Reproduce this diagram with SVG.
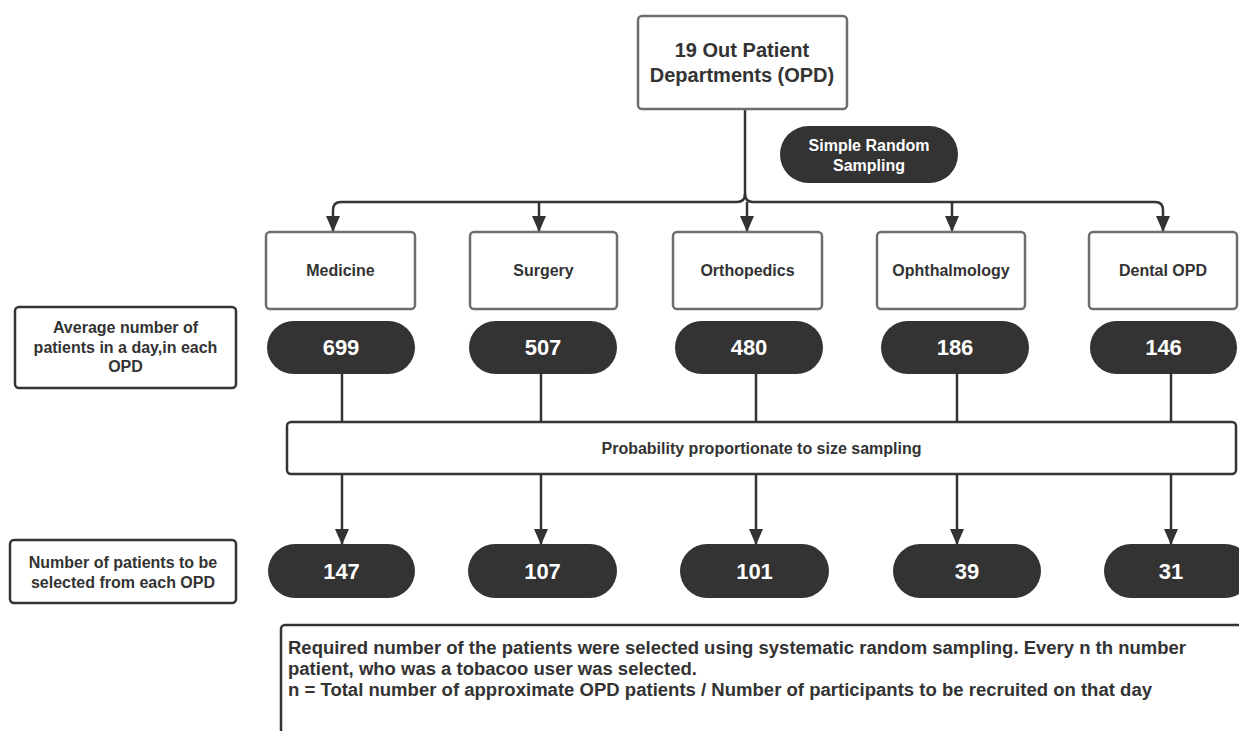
<svg xmlns="http://www.w3.org/2000/svg" width="1239" height="731" viewBox="0 0 1239 731">
<defs>
<style>
text{font-family:"Liberation Sans",Arial,sans-serif;font-weight:bold;}
.box{fill:#fff;stroke:#6e6e6e;stroke-width:2.5;}
.dbox{fill:#fff;stroke:#333;stroke-width:2.5;}
.pill{fill:#333;stroke:none;}
.lbl{fill:#333;font-size:16px;text-anchor:middle;}
.num{fill:#fff;font-size:22px;text-anchor:middle;}
.wl{fill:#fff;font-size:16px;text-anchor:middle;}
.ttl{fill:#333;font-size:20px;text-anchor:middle;}
.note{fill:#333;font-size:18px;}
.con{fill:none;stroke:#333;stroke-width:2.5;}
.arr{fill:none;stroke:#333;stroke-width:2.5;marker-end:url(#ah);}
</style>
<marker id="ah" markerWidth="16" markerHeight="14" refX="15" refY="7" orient="auto" markerUnits="userSpaceOnUse" viewBox="0 0 16 14">
<path d="M0,0 L16,7 L0,14 Z" fill="#333"/>
</marker>
</defs>

<g id="connectors">
<path class="con" d="M745,109 V196"/>
<path class="arr" d="M745,194 Q745,202 737,202 H341 Q333,202 333,210 V231"/>
<path class="arr" d="M745,194 Q745,202 753,202 H1155 Q1163,202 1163,210 V231"/>
<path class="arr" d="M539,202 V231"/>
<path class="arr" d="M747,202 V231"/>
<path class="arr" d="M952,202 V231"/>
<path class="con" d="M342,374 V422"/>
<path class="con" d="M541,374 V422"/>
<path class="con" d="M756,374 V422"/>
<path class="con" d="M957,374 V422"/>
<path class="con" d="M1171,374 V422"/>
<path class="arr" d="M342,474 V544"/>
<path class="arr" d="M541,474 V544"/>
<path class="arr" d="M756,474 V544"/>
<path class="arr" d="M957,474 V544"/>
<path class="arr" d="M1171,474 V544"/>
</g>

<g id="opd-root">
<rect class="box" x="638" y="16" width="209" height="93" rx="4"/>
<text class="ttl" x="742" y="57">19 Out Patient</text>
<text class="ttl" x="742" y="82">Departments (OPD)</text>
</g>

<g id="simple-random">
<rect class="pill" x="780" y="126" width="178" height="57" rx="28.5"/>
<text class="wl" x="869" y="151">Simple Random</text>
<text class="wl" x="869" y="171">Sampling</text>
</g>

<g id="medicine"><rect class="box" x="266" y="232" width="149" height="77" rx="4"/><text class="lbl" x="340.5" y="276">Medicine</text></g>
<g id="surgery"><rect class="box" x="470" y="232" width="147" height="77" rx="4"/><text class="lbl" x="543.5" y="276">Surgery</text></g>
<g id="orthopedics"><rect class="box" x="673" y="232" width="149" height="77" rx="4"/><text class="lbl" x="747.5" y="276">Orthopedics</text></g>
<g id="ophthalmology"><rect class="box" x="877" y="232" width="148" height="77" rx="4"/><text class="lbl" x="951" y="276">Ophthalmology</text></g>
<g id="dental"><rect class="box" x="1089" y="232" width="148" height="77" rx="4"/><text class="lbl" x="1163" y="276">Dental OPD</text></g>

<g id="avg-label">
<rect class="dbox" x="15" y="307" width="221" height="81" rx="4"/>
<text class="lbl" x="125.5" y="333">Average number of</text>
<text class="lbl" x="125.5" y="353">patients in a day,in each</text>
<text class="lbl" x="125.5" y="372">OPD</text>
</g>

<g id="avg-699"><rect class="pill" x="267" y="321" width="148" height="53" rx="26.5"/><text class="num" x="341" y="355">699</text></g>
<g id="avg-507"><rect class="pill" x="469" y="321" width="148" height="53" rx="26.5"/><text class="num" x="543" y="355">507</text></g>
<g id="avg-480"><rect class="pill" x="675" y="321" width="148" height="53" rx="26.5"/><text class="num" x="749" y="355">480</text></g>
<g id="avg-186"><rect class="pill" x="881" y="321" width="148" height="53" rx="26.5"/><text class="num" x="955" y="355">186</text></g>
<g id="avg-146"><rect class="pill" x="1090" y="321" width="147" height="53" rx="26.5"/><text class="num" x="1163.5" y="355">146</text></g>

<g id="pps">
<rect class="dbox" x="287" y="422" width="949" height="52" rx="4"/>
<text class="lbl" x="761.5" y="454">Probability proportionate to size sampling</text>
</g>

<g id="sel-label">
<rect class="dbox" x="10" y="540" width="226" height="63" rx="4"/>
<text class="lbl" x="123" y="568">Number of patients to be</text>
<text class="lbl" x="123" y="588">selected from each OPD</text>
</g>

<g id="sel-147"><rect class="pill" x="268" y="544" width="147" height="54" rx="27"/><text class="num" x="341.5" y="579">147</text></g>
<g id="sel-107"><rect class="pill" x="468" y="544" width="149" height="54" rx="27"/><text class="num" x="542.5" y="579">107</text></g>
<g id="sel-101"><rect class="pill" x="680" y="544" width="149" height="54" rx="27"/><text class="num" x="754.5" y="579">101</text></g>
<g id="sel-39"><rect class="pill" x="893" y="544" width="148" height="54" rx="27"/><text class="num" x="967" y="579">39</text></g>
<g id="sel-31"><rect class="pill" x="1104" y="544" width="148" height="54" rx="27"/><text class="num" x="1171" y="579">31</text></g>

<g id="note">
<rect class="dbox" x="281" y="625" width="980" height="130" rx="4"/>
<text class="note" x="288" y="654" textLength="898" lengthAdjust="spacingAndGlyphs">Required number of the patients were selected using systematic random sampling. Every n th number</text>
<text class="note" x="288" y="675" textLength="409" lengthAdjust="spacingAndGlyphs">patient, who was a tobacoo user was selected.</text>
<text class="note" x="288" y="696" textLength="864" lengthAdjust="spacingAndGlyphs">n = Total number of approximate OPD patients / Number of participants to be recruited on that day</text>
</g>
</svg>
